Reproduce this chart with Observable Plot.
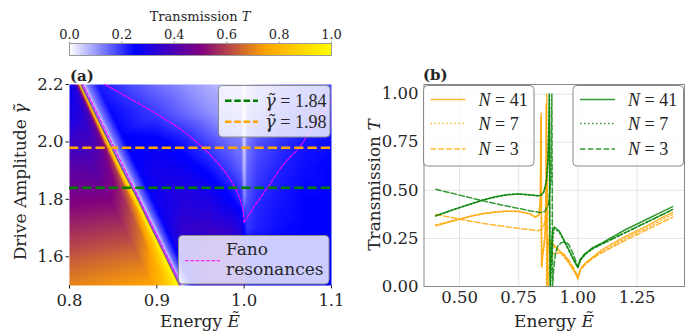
<!DOCTYPE html>
<html><head><meta charset="utf-8">
<script src="https://cdn.jsdelivr.net/npm/d3@7"></script>
<script src="https://cdn.jsdelivr.net/npm/@observablehq/plot@0.6"></script>
<style>
body{margin:0;background:#fff;}
#root{position:relative;width:693px;height:333px;overflow:hidden;background:#fff;}
#root svg{position:absolute;}
</style></head><body><div id="root"></div>
<script>
// ---------------- colour map ----------------
const cmapStops = [0, 0.25, 0.5, 0.75, 1];
const cmapColors = ["white", "blue", "purple", "orange", "yellow"];
const cbarTicks = [0, 0.2, 0.4, 0.6, 0.8, 1.0];

// ---------------- panel (a): heat map samples ----------------
const ridgeGamma = [1.4, 1.5, 1.6, 1.7, 1.8, 1.9, 2.0, 2.1, 2.2, 2.3];
const ridgeE     = [0.941, 0.925, 0.909, 0.893, 0.877, 0.860, 0.844, 0.828, 0.812, 0.796];
const ridgeOffset = [-0.03, -0.015, -0.006, -0.002, 0, 0.001, 0.002, 0.0035, 0.008, 0.02];
const ridgeT = [
  [0.79, 0.86, 0.93, 0.98, 1.0, 0.45, 0.12, 0.04, 0.15, 0.30],
  [0.78, 0.85, 0.93, 0.98, 1.0, 0.45, 0.12, 0.04, 0.15, 0.30],
  [0.70, 0.77, 0.88, 0.96, 1.0, 0.45, 0.12, 0.04, 0.15, 0.30],
  [0.61, 0.67, 0.80, 0.94, 1.0, 0.45, 0.12, 0.04, 0.14, 0.28],
  [0.53, 0.58, 0.70, 0.91, 1.0, 0.45, 0.12, 0.04, 0.14, 0.27],
  [0.45, 0.49, 0.60, 0.86, 1.0, 0.45, 0.12, 0.04, 0.13, 0.26],
  [0.38, 0.41, 0.50, 0.78, 1.0, 0.45, 0.12, 0.04, 0.13, 0.25],
  [0.31, 0.33, 0.40, 0.68, 1.0, 0.45, 0.12, 0.04, 0.13, 0.24],
  [0.26, 0.27, 0.32, 0.58, 1.0, 0.45, 0.12, 0.04, 0.12, 0.22],
  [0.22, 0.23, 0.28, 0.50, 1.0, 0.45, 0.12, 0.04, 0.12, 0.20]
];
const gridE     = [0.8, 0.9, 0.93, 0.96, 0.985, 0.997, 1.0, 1.003, 1.015, 1.04, 1.07, 1.1];
const gridGamma = [1.5, 1.6, 1.7, 1.8, 1.9, 2.0, 2.1, 2.2];
const gridT = [
  [0.70, null, null, 0.36, 0.36, 0.35, 0.33, 0.28, 0.25, 0.25, 0.25, 0.25],
  [0.63, null, null, 0.37, 0.37, 0.35, 0.32, 0.27, 0.25, 0.25, 0.25, 0.25],
  [0.56, null, 0.35, 0.36, 0.34, 0.31, 0.25, 0.20, 0.22, 0.24, 0.25, 0.25],
  [0.49, null, 0.32, 0.30, 0.25, 0.21, 0.12, 0.17, 0.21, 0.23, 0.25, 0.25],
  [0.43, 0.29, 0.28, 0.24, 0.19, 0.16, 0.06, 0.15, 0.19, 0.22, 0.24, 0.25],
  [0.36, 0.26, 0.23, 0.18, 0.14, 0.13, 0.03, 0.13, 0.17, 0.20, 0.23, 0.24],
  [null, 0.19, 0.15, 0.11, 0.09, 0.08, 0.00, 0.09, 0.12, 0.16, 0.19, 0.21],
  [null, 0.14, 0.11, 0.08, 0.06, 0.05, 0.00, 0.05, 0.09, 0.13, 0.16, 0.18]
];
const fanoRidgeE = [0.9285, 0.8155];
const fanoRidgeG = [1.5, 2.2];
const fanoLeftE  = [0.8406, 0.896, 0.929, 0.954, 0.977, 0.990, 0.998, 1.0];
const fanoLeftG  = [2.2, 2.104, 2.04, 1.976, 1.90, 1.837, 1.773, 1.72];
const fanoRightE = [1.0, 1.011, 1.026, 1.0456, 1.063, 1.076, 1.1];
const fanoRightG = [1.72, 1.773, 1.837, 1.924, 1.98, 2.04, 2.146];
const cutGamma = [1.84, 1.98];
const cutColors = ["#008000", "#ffa500"];
const cutLabels = ["1.84", "1.98"];
const xTicksA = [0.8, 0.9, 1.0, 1.1];
const yTicksA = [1.6, 1.8, 2.0, 2.2];

// ---------------- panel (b): transmission curves ----------------
const eO41 = [0.40,0.45,0.50,0.55,0.60,0.65,0.70,0.75,0.80,0.82,0.835,0.842,0.845,0.8465,0.848,0.852,0.858,0.863,0.866,0.868,0.8695,0.871,0.875,0.885,0.90,0.92,0.94,0.96,0.98,0.99,1.00,1.01,1.03,1.06,1.10,1.15,1.20,1.25,1.30,1.35,1.40];
const tO41 = [0.316,0.333,0.350,0.366,0.378,0.387,0.391,0.390,0.375,0.360,0.370,0.450,0.900,0.300,0.100,0.170,0.220,0.300,0.500,1.000,0.000,0.150,0.245,0.235,0.215,0.190,0.165,0.130,0.090,0.070,0.040,0.090,0.120,0.150,0.190,0.225,0.260,0.290,0.320,0.355,0.385];
const eO7 = [0.40,0.50,0.60,0.70,0.75,0.80,0.82,0.835,0.840,0.843,0.8445,0.846,0.850,0.856,0.861,0.864,0.866,0.8675,0.869,0.873,0.885,0.90,0.92,0.94,0.96,0.98,0.99,1.00,1.01,1.03,1.06,1.10,1.20,1.30,1.40];
const tO7 = [0.320,0.352,0.380,0.392,0.391,0.377,0.362,0.372,0.440,0.880,0.300,0.110,0.160,0.210,0.290,0.480,0.950,0.000,0.140,0.230,0.225,0.205,0.180,0.155,0.125,0.085,0.068,0.042,0.085,0.115,0.145,0.180,0.250,0.310,0.375];
const eO3 = [0.40,0.50,0.60,0.70,0.80,0.83,0.845,0.855,0.862,0.868,0.871,0.873,0.875,0.879,0.886,0.895,0.92,0.94,0.96,0.98,0.99,1.00,1.01,1.03,1.06,1.10,1.20,1.30,1.40];
const tO3 = [0.375,0.350,0.328,0.310,0.295,0.290,0.295,0.310,0.350,0.450,0.560,0.200,0.000,0.080,0.150,0.170,0.175,0.170,0.140,0.100,0.075,0.050,0.085,0.115,0.145,0.175,0.240,0.300,0.360];
const eG41 = [0.40,0.45,0.50,0.55,0.60,0.65,0.70,0.75,0.80,0.83,0.845,0.855,0.862,0.868,0.873,0.877,0.879,0.881,0.883,0.886,0.892,0.90,0.92,0.94,0.96,0.98,0.99,1.00,1.01,1.03,1.06,1.10,1.15,1.20,1.25,1.30,1.35,1.40];
const tG41 = [0.367,0.390,0.410,0.430,0.450,0.467,0.477,0.481,0.476,0.472,0.475,0.490,0.520,0.560,0.650,0.800,1.000,0.300,0.000,0.150,0.280,0.310,0.290,0.245,0.195,0.145,0.120,0.100,0.140,0.170,0.200,0.225,0.260,0.295,0.325,0.355,0.385,0.415];
const eG7 = [0.40,0.50,0.60,0.70,0.75,0.80,0.83,0.845,0.855,0.862,0.868,0.874,0.878,0.880,0.8815,0.884,0.888,0.895,0.90,0.92,0.94,0.96,0.98,0.99,1.00,1.01,1.03,1.06,1.10,1.20,1.30,1.40];
const tG7 = [0.367,0.410,0.450,0.477,0.481,0.476,0.472,0.475,0.490,0.520,0.560,0.680,0.850,1.000,0.200,0.000,0.120,0.260,0.300,0.285,0.240,0.190,0.140,0.118,0.098,0.135,0.165,0.195,0.220,0.280,0.340,0.400];
const eG3 = [0.40,0.50,0.60,0.70,0.80,0.84,0.86,0.875,0.885,0.890,0.8915,0.893,0.897,0.905,0.915,0.93,0.945,0.96,0.98,0.99,1.00,1.01,1.03,1.06,1.10,1.20,1.30,1.40];
const tG3 = [0.505,0.475,0.445,0.418,0.393,0.385,0.390,0.420,0.550,1.000,0.500,0.000,0.080,0.170,0.210,0.228,0.232,0.220,0.170,0.135,0.100,0.140,0.170,0.195,0.220,0.280,0.340,0.400];
const xTicksB = [0.5, 0.75, 1.0, 1.25];
const yTicksB = [0, 0.25, 0.5, 0.75, 1.0];
const legendN = ["41", "7", "3"];

// ---------------- build ----------------
const SERIF = '"DejaVu Serif", "Liberation Serif", serif';
const root = document.getElementById("root");
const colorOpts = {type: "linear", domain: cmapStops, range: cmapColors, interpolate: "rgb", clamp: true};
const baseStyle = {fontFamily: SERIF, fontSize: "16.5px", color: "#262626", background: "transparent", overflow: "visible"};

const cbar = Plot.plot({
  width: 346, height: 57, marginLeft: 69, marginRight: 15, marginTop: 43, marginBottom: 2,
  style: {...baseStyle, fontSize: "13px"},
  x: {domain: [0, 1]}, y: {domain: [0, 1], axis: null}, color: colorOpts,
  marks: [
    Plot.raster({fill: (x, y) => x, x1: 0, x2: 1, y1: 0, y2: 1}),
    Plot.frame({stroke: "#999"}),
    Plot.axisX({anchor: "top", ticks: cbarTicks, tickFormat: d3.format(".1f"), tickSize: 2.5, tickPadding: 2, label: null, stroke: "#999"})
  ]
});
cbar.style.left = "0px"; cbar.style.top = "0px";
root.appendChild(cbar);

// heat-map sample points; ridge samples are laid across the ridge so the triangulation follows it
const pxPerE = 262 / 0.3, pxPerG = 201 / 0.7;
const nr = ridgeGamma.length;
let ux = (ridgeE[nr - 1] - ridgeE[0]) * pxPerE, uy = (ridgeGamma[nr - 1] - ridgeGamma[0]) * pxPerG;
const ul = Math.hypot(ux, uy); ux /= ul; uy /= ul;
const nx = uy, ny = -ux;
const heat = [];
ridgeGamma.forEach((g, i) => ridgeOffset.forEach((d, j) => {
  const t = d * pxPerE * uy;
  heat.push({E: ridgeE[i] + t * nx / pxPerE, g: g + t * ny / pxPerG, T: ridgeT[i][j]});
}));
gridGamma.forEach((g, i) => gridE.forEach((e, j) => {
  if (gridT[i][j] != null) heat.push({E: e, g, T: gridT[i][j]});
}));
const fanoRidge = fanoRidgeE.map((e, i) => ({E: e, g: fanoRidgeG[i], b: "r"}));
const fanoCurve = [
  ...fanoLeftE.map((e, i) => ({E: e, g: fanoLeftG[i], b: "L"})),
  ...fanoRightE.map((e, i) => ({E: e, g: fanoRightG[i], b: "R"}))
];
const fanoStyle = {x: "E", y: "g", z: "b", stroke: "#ff00ff", strokeWidth: 1.1, strokeDasharray: "3.7,1.6", clip: true};

const plotA = Plot.plot({
  width: 346, height: 273, marginLeft: 69, marginRight: 15, marginTop: 24, marginBottom: 48,
  style: baseStyle,
  x: {domain: [0.8, 1.1]}, y: {domain: [1.5, 2.2]}, color: colorOpts,
  marks: [
    Plot.raster(heat, {x: "E", y: "g", fill: "T", interpolate: "barycentric"}),
    Plot.line(fanoRidge, fanoStyle),
    Plot.line(fanoCurve, {...fanoStyle, curve: "catmull-rom"}),
    Plot.ruleY([cutGamma[0]], {stroke: cutColors[0], strokeWidth: 2.5, strokeDasharray: "9.25,4"}),
    Plot.ruleY([cutGamma[1]], {stroke: cutColors[1], strokeWidth: 2.5, strokeDasharray: "9.25,4"}),
    Plot.axisX({ticks: xTicksA, tickFormat: d3.format(".1f"), tickSize: 3.5, tickPadding: 5, label: null}),
    Plot.axisY({ticks: yTicksA, tickFormat: d3.format(".1f"), tickSize: 3.5, tickPadding: 2.5, label: null})
  ]
});
plotA.style.left = "0px"; plotA.style.top = "60px";
root.appendChild(plotA);

const ser = (E, T) => E.map((e, i) => ({E: e, T: T[i]}));
const ORANGE = "#ffa500", GREEN = "#008000";
const dashes = {solid: null, dotted: "1.5,2.5", dashed: "5.5,2.4"};
const lineMark = (E, T, c, dash) => Plot.line(ser(E, T), {x: "E", y: "T", stroke: c, strokeOpacity: 0.8, strokeWidth: 1.5, strokeDasharray: dash, clip: true});
const plotB = Plot.plot({
  width: 347, height: 273, marginLeft: 77.5, marginRight: 9, marginTop: 24, marginBottom: 47,
  style: baseStyle,
  x: {domain: [0.35, 1.45]}, y: {domain: [0, 1.05]},
  marks: [
    Plot.gridX({ticks: xTicksB, stroke: "#e4e4e4", strokeOpacity: 1}),
    Plot.gridY({ticks: yTicksB, stroke: "#e4e4e4", strokeOpacity: 1}),
    lineMark(eO41, tO41, ORANGE, dashes.solid),
    lineMark(eO7, tO7, ORANGE, dashes.dotted),
    lineMark(eO3, tO3, ORANGE, dashes.dashed),
    lineMark(eG41, tG41, GREEN, dashes.solid),
    lineMark(eG7, tG7, GREEN, dashes.dotted),
    lineMark(eG3, tG3, GREEN, dashes.dashed),
    Plot.frame({stroke: "#888"}),
    Plot.axisX({ticks: xTicksB, tickFormat: d3.format(".2f"), tickSize: 0, tickPadding: 5, label: null}),
    Plot.axisY({ticks: yTicksB, tickFormat: d3.format(".2f"), tickSize: 0, tickPadding: 5.5, label: null})
  ]
});
plotB.style.left = "346px"; plotB.style.top = "60px";
root.appendChild(plotB);

// ---------------- overlay: labels and legends ----------------
const ov = d3.create("svg").attr("width", 693).attr("height", 333).style("left", "0px").style("top", "0px");
function txt(x, y, html, {size = 17, anchor = "middle", weight = "normal", family = SERIF, rotate = 0} = {}) {
  const t = ov.append("text").attr("transform", `translate(${x},${y}) rotate(${rotate})`)
    .attr("text-anchor", anchor).style("font-size", size + "px").style("font-weight", weight).style("font-family", family)
    .attr("fill", "#262626");
  t.html(html);
  return t;
}
txt(200, 20.5, 'Transmission <tspan font-style="italic">T</tspan>', {size: 13});
txt(70, 81, "(a)", {size: 15, anchor: "start", weight: "bold"});
txt(423, 80, "(b)", {size: 15, anchor: "start", weight: "bold"});
txt(200, 327, 'Energy <tspan font-style="italic">Ẽ</tspan>');
txt(554, 327, 'Energy <tspan font-style="italic">Ẽ</tspan>');
txt(26, 182, 'Drive Amplitude <tspan font-style="italic">γ̃</tspan>', {rotate: -90});
txt(380, 185, 'Transmission <tspan font-style="italic">T</tspan>', {rotate: -90});

function box(x, y, w, h) {
  ov.append("rect").attr("x", x).attr("y", y).attr("width", w).attr("height", h).attr("rx", 4)
    .attr("fill", "white").attr("fill-opacity", 0.8).attr("stroke", "#8a8a8a").attr("stroke-width", 1);
}
function sample(x1, x2, y, c, w, dash, op = 1) {
  ov.append("line").attr("x1", x1).attr("x2", x2).attr("y1", y).attr("y2", y)
    .attr("stroke", c).attr("stroke-width", w).attr("stroke-opacity", op).attr("stroke-dasharray", dash);
}
const MATH = '"Liberation Serif", serif';
box(218.5, 85.5, 111.5, 51.5);
cutGamma.forEach((g, i) => {
  const y = [100.7, 121.7][i];
  sample(225, 258, y, cutColors[i], 2.5, "6.5,2.8");
  txt(265, y + 6, `<tspan font-style="italic" style="font-family:${SERIF.replace(/"/g, "'")}">γ̃</tspan> = ${cutLabels[i]}`, {size: 18, anchor: "start", family: MATH});
});
box(178.5, 235.5, 150.5, 48.5);
sample(185, 220, 260.7, "#ff00ff", 1.1, "3.7,1.6");
txt(226, 255, "Fano", {size: 17, anchor: "start"});
txt(226, 274.5, "resonances", {size: 17, anchor: "start"});
const rowsY = [99.5, 123.5, 149];
[[423.5, ORANGE], [573, GREEN]].forEach(([bx, c]) => {
  box(bx, 85.5, 110.5, 80.5);
  ["solid", "dotted", "dashed"].forEach((k, i) => {
    sample(bx + 7, bx + 42, rowsY[i], c, 1.5, dashes[k], 0.8);
    txt(bx + 55, rowsY[i] + 6, `<tspan font-style="italic">N</tspan> = ${legendN[i]}`, {size: 18, anchor: "start", family: MATH});
  });
});
root.appendChild(ov.node());
</script></body></html>
